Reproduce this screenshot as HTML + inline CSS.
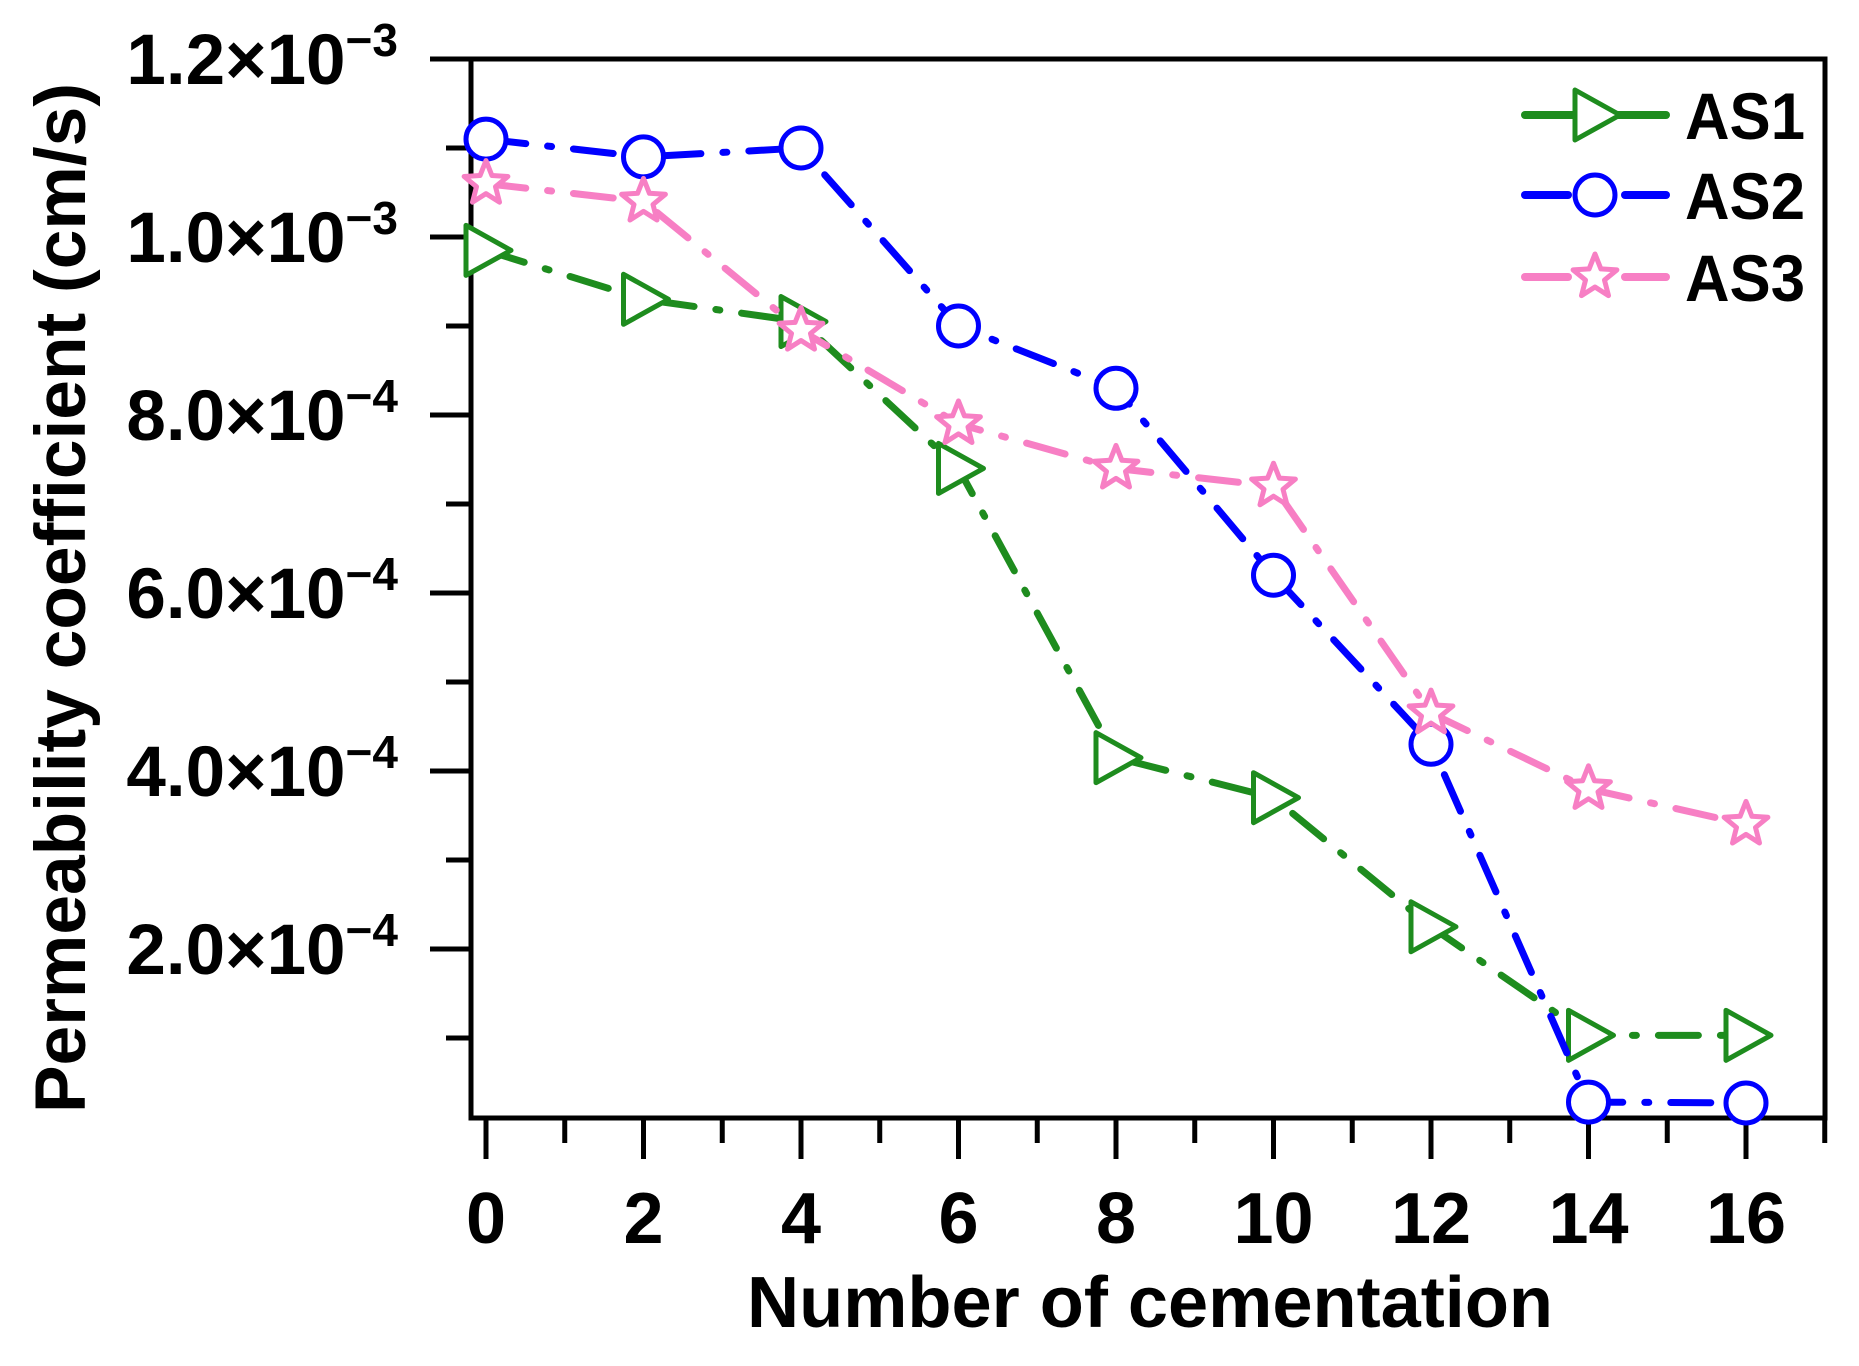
<!DOCTYPE html>
<html><head><meta charset="utf-8"><style>
html,body{margin:0;padding:0;background:#fff}
svg{display:block}
text{font-family:"Liberation Sans",Arial,sans-serif;font-weight:bold;fill:#000}
</style></head><body>
<svg id="chart" width="1859" height="1366" viewBox="0 0 1859 1366" xmlns="http://www.w3.org/2000/svg">
<g id="axes"></g>
<g id="series"></g>
<g id="legend"></g>
<text x="1150" y="1327" font-size="72" text-anchor="middle" textLength="806" lengthAdjust="spacingAndGlyphs">Number of cementation</text>
<text transform="translate(85,598) rotate(-90)" font-size="71" text-anchor="middle" textLength="1030" lengthAdjust="spacingAndGlyphs">Permeability coefficient (cm/s)</text>
</svg>
<script>
const categories = [0, 2, 4, 6, 8, 10, 12, 14, 16];
const as1 = [9.85, 9.3, 9.05, 7.4, 4.15, 3.7, 2.25, 1.03, 1.03];
const as2 = [11.1, 10.9, 11.0, 9.0, 8.3, 6.2, 4.3, 0.28, 0.27];
const as3 = [10.6, 10.4, 8.95, 7.9, 7.4, 7.2, 4.65, 3.8, 3.4];
const xTicks = [0, 2, 4, 6, 8, 10, 12, 14, 16];
const xMinor = [1, 3, 5, 7, 9, 11, 13, 15, 17];
const yTicks = [2, 4, 6, 8, 10, 12];
const yTickMain = ["2.0×10", "4.0×10", "6.0×10", "8.0×10", "1.0×10", "1.2×10"];
const yTickExp = ["−4", "−4", "−4", "−4", "−3", "−3"];
const yMinor = [1, 3, 5, 7, 9, 11];
const seriesNames = ["AS1", "AS2", "AS3"];

const NS = "http://www.w3.org/2000/svg";
const L = 471, R = 1825, T = 59, B = 1118;
function xs(v){ return 486 + v * 78.75; }
function ys(v){ return 59 + (12 - v) * 89; }
function mk(tag, attrs, parent){ const e = document.createElementNS(NS, tag); for (const k in attrs) e.setAttribute(k, attrs[k]); parent.appendChild(e); return e; }

const axes = document.getElementById('axes');
const frame = mk('rect', {x:L, y:T, width:R-L, height:B-T, fill:'none', stroke:'#000', 'stroke-width':5}, axes);


xTicks.forEach((v) => {
  const t = mk('line', {x1:xs(v), x2:xs(v), y1:B, y2:1159, stroke:'#000', 'stroke-width':5}, axes);
  
  
  const lb = mk('text', {x:xs(v), y:1243, 'font-size':72, 'text-anchor':'middle'}, axes);
  lb.textContent = String(v);
  
  
});
xMinor.forEach((v) => {
  const t = mk('line', {x1:xs(v), x2:xs(v), y1:B, y2:1143, stroke:'#000', 'stroke-width':5}, axes);
  
  
});
yTicks.forEach((v, i) => {
  const t = mk('line', {x1:430, x2:L, y1:ys(v), y2:ys(v), stroke:'#000', 'stroke-width':5}, axes);
  
  
  const lb = mk('text', {x:398, y:ys(v)+25, 'font-size':71, 'text-anchor':'end'}, axes);
  
  
  const a = mk('tspan', {}, lb); a.textContent = yTickMain[i];
  const b = mk('tspan', {'font-size':46, dy:-28}, lb); b.textContent = yTickExp[i];
});
yMinor.forEach((v) => {
  const t = mk('line', {x1:446, x2:L, y1:ys(v), y2:ys(v), stroke:'#000', 'stroke-width':5}, axes);
  
  
});

const colors = ['#1e8c1e', '#0000ff', '#f77fc4'];
const dash = '40 22 4 22';
function marker(kind, cx, cy, color, parent){
  let e;
  if (kind === 0) {
    e = mk('polygon', {points:`${cx-20},${cy-25} ${cx+25},${cy} ${cx-20},${cy+25}`, fill:'#fff', stroke:color, 'stroke-width':5, 'stroke-linejoin':'round'}, parent);
  } else if (kind === 1) {
    e = mk('circle', {cx:cx, cy:cy, r:20, fill:'#fff', stroke:color, 'stroke-width':5}, parent);
  } else {
    const pts = [];
    for (let k = 0; k < 10; k++) {
      const r = k % 2 ? 10 : 23;
      const a = -Math.PI/2 + k*Math.PI/5;
      pts.push((cx + r*Math.cos(a)).toFixed(1) + ',' + (cy + r*Math.sin(a)).toFixed(1));
    }
    e = mk('polygon', {points:pts.join(' '), fill:'#fff', stroke:color, 'stroke-width':5, 'stroke-linejoin':'round'}, parent);
  }
  return e;
}
const seriesG = document.getElementById('series');
[as1, as2, as3].forEach((vals, s) => {
  const g = mk('g', {}, seriesG);
  
  
  const pl = mk('polyline', {points: vals.map((v, i) => xs(categories[i]) + ',' + ys(v)).join(' '), fill:'none', stroke:colors[s], 'stroke-width':7, 'stroke-dasharray':dash, 'stroke-linecap':'round'}, g);
  
  
  vals.forEach((v, i) => {
    const m = marker(s, xs(categories[i]), ys(v), colors[s], g);
    
    
  });
});

const legend = document.getElementById('legend');
const rows = [115, 195, 277];
seriesNames.forEach((n, s) => {
  const g = mk('g', {}, legend);
  
  
  const l1 = mk('line', {x1:1525, x2:1568, y1:rows[s], y2:rows[s], stroke:colors[s], 'stroke-width':8, 'stroke-linecap':'round'}, g);
  
  
  const l2 = mk('line', {x1:1625, x2:1666, y1:rows[s], y2:rows[s], stroke:colors[s], 'stroke-width':8, 'stroke-linecap':'round'}, g);
  
  
  if (s === 0) mk('line', {x1:1568, x2:1625, y1:rows[s], y2:rows[s], stroke:colors[s], 'stroke-width':8}, g);
  const m = marker(s, 1595, rows[s], colors[s], g);
  
  
  const t = mk('text', {x:1685, y:rows[s]+24, 'font-size':66, textLength:'120', lengthAdjust:'spacingAndGlyphs'}, g);
  t.textContent = n;
  
  
});
</script>
</body></html>
